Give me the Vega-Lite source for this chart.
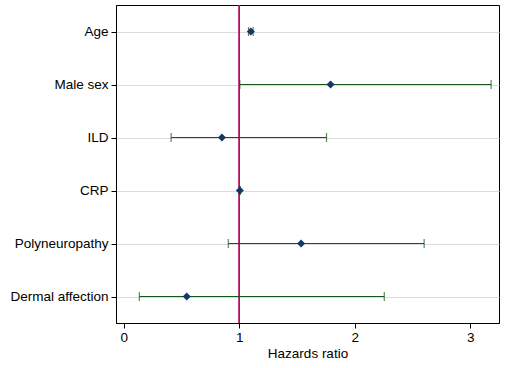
{
  "$schema": "https://vega.github.io/schema/vega-lite/v6.json",
  "width": 383,
  "height": 318,
  "autosize": {"type": "none"},
  "padding": {"left": 116, "top": 5, "right": 7, "bottom": 45},
  "background": "white",
  "config": {
    "view": {"stroke": "#000000", "strokeWidth": 1},
    "font": "Liberation Sans",
    "axis": {
      "labelFont": "Liberation Sans",
      "titleFont": "Liberation Sans",
      "labelFontSize": 13.5,
      "titleFontSize": 13.5,
      "labelColor": "#000000",
      "titleColor": "#000000",
      "titleFontWeight": "normal",
      "domainColor": "#000000",
      "tickColor": "#000000"
    }
  },
  "data": {
    "values": [
      {"var": "Age", "hr": 1.10, "lo": 1.08, "hi": 1.12},
      {"var": "Male sex", "hr": 1.79, "lo": 1.005, "hi": 3.18},
      {"var": "ILD", "hr": 0.85, "lo": 0.41, "hi": 1.755},
      {"var": "CRP", "hr": 1.005, "lo": 1.0, "hi": 1.01},
      {"var": "Polyneuropathy", "hr": 1.535, "lo": 0.905, "hi": 2.60},
      {"var": "Dermal affection", "hr": 0.545, "lo": 0.135, "hi": 2.255}
    ]
  },
  "encoding": {
    "y": {
      "field": "var",
      "type": "nominal",
      "sort": ["Age", "Male sex", "ILD", "CRP", "Polyneuropathy", "Dermal affection"],
      "scale": {"type": "point", "padding": 0.5},
      "axis": {
        "title": null,
        "grid": true,
        "gridColor": "#dcdcdc",
        "gridWidth": 1,
        "tickSize": 5,
        "labelPadding": 3,
        "domain": true
      }
    }
  },
  "layer": [
    {
      "mark": {"type": "rule", "color": "#b8105a", "strokeWidth": 1},
      "encoding": {
        "x": {"datum": 1, "type": "quantitative"},
        "y": null
      }
    },
    {
      "mark": {"type": "rule", "color": "#17561a", "strokeWidth": 1.2},
      "encoding": {
        "x": {
          "field": "lo",
          "type": "quantitative",
          "scale": {"domain": [-0.067, 3.248], "nice": false, "zero": false},
          "axis": {
            "title": "Hazards ratio",
            "values": [0, 1, 2, 3],
            "format": "d",
            "grid": false,
            "tickSize": 5,
            "labelPadding": 2,
            "titlePadding": 3
          }
        },
        "x2": {"field": "hi"}
      }
    },
    {
      "mark": {"type": "tick", "color": "#17561a", "thickness": 1.2, "size": 9},
      "encoding": {"x": {"field": "lo", "type": "quantitative"}}
    },
    {
      "mark": {"type": "tick", "color": "#17561a", "thickness": 1.2, "size": 9},
      "encoding": {"x": {"field": "hi", "type": "quantitative"}}
    },
    {
      "mark": {"type": "point", "shape": "diamond", "filled": true, "color": "#14386a", "opacity": 1, "size": 65},
      "encoding": {"x": {"field": "hr", "type": "quantitative"}}
    }
  ]
}
